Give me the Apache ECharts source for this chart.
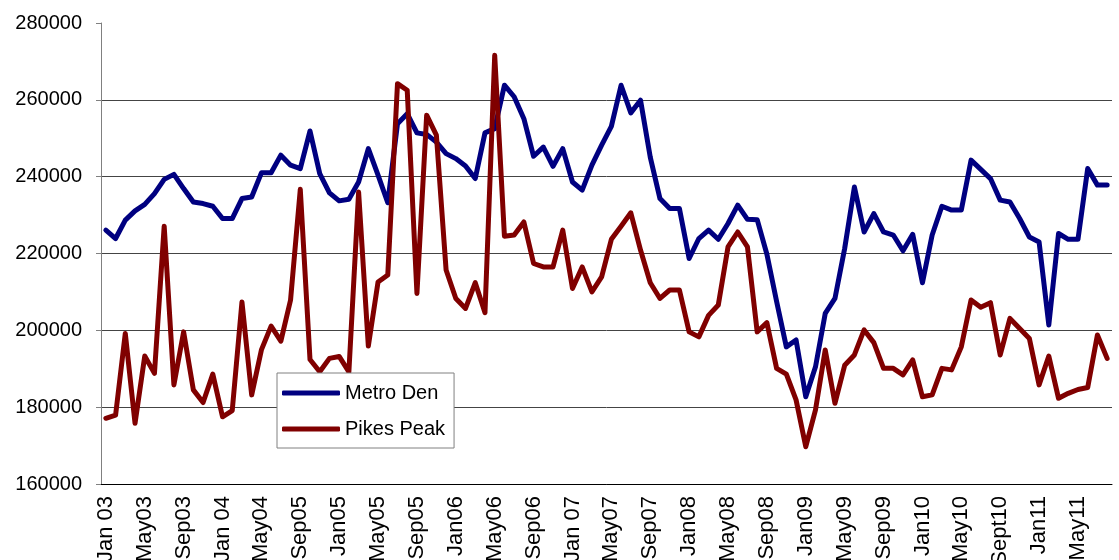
<!DOCTYPE html>
<html>
<head>
<meta charset="utf-8">
<script src="https://cdn.jsdelivr.net/npm/echarts@6/dist/echarts.min.js"></script>
<style>
    html, body { margin: 0; padding: 0; background: #fff; }
    #chart { width: 1119px; height: 560px; }
</style>
</head>
<body>
<div id="chart"></div>
<script>
    // tick labels, one every 4 months (as written on the original chart)
    var tickLabels = ['Jan 03', 'May03', 'Sep03', 'Jan 04', 'May04', 'Sep05', 'Jan05', 'May05', 'Sep05',
        'Jan06', 'May06', 'Sep06', 'Jan 07', 'May07', 'Sep07', 'Jan08', 'May08', 'Sep08',
        'Jan09', 'May09', 'Sep09', 'Jan10', 'May10', 'Sept10', 'Jan11', 'May11'];

    var monthNames = ['Jan', 'Feb', 'Mar', 'Apr', 'May', 'Jun', 'Jul', 'Aug', 'Sep', 'Oct', 'Nov', 'Dec'];

    // Metro Den, Jan 03 .. Aug 11
    var metroDen = [
        226100, 223900, 228700, 231100, 232800, 235600, 239300, 240600, 236900, 233400, 233000, 232300,
        229100, 229100, 234300, 234700, 241000, 241000, 245600, 243000, 242100, 251900, 240800, 235800,
        233700, 234100, 238600, 247300, 240400, 233200, 253800, 256400, 251400, 251000, 249000, 246000,
        244700, 242800, 239500, 251400, 252500, 263800, 260800, 255100, 245300, 247700, 242700, 247300,
        238600, 236500, 243000, 248200, 253100, 263800, 256600, 259900, 245100, 234300, 231700, 231700,
        218700, 223900, 226100, 223700, 227800, 232600, 228900, 228800, 219800, 207500, 195700, 197500,
        182700, 190500, 204400, 208300, 221300, 237300, 225600, 230400, 225600, 224800, 220700, 225000,
        212400, 224800, 232300, 231300, 231300, 244300, 241900, 239500, 233900, 233400, 229100, 224300,
        223000, 201400, 225200, 223700, 223700, 242100, 237800, 237800
    ];

    // Pikes Peak, Jan 03 .. Aug 11
    var pikesPeak = [
        177100, 177900, 199200, 175800, 193300, 188800, 227100, 185800, 199600, 184500, 181200, 188600,
        177500, 179100, 207400, 183200, 194900, 201100, 197200, 207900, 236700, 192400, 189200, 192700,
        193200, 189200, 236000, 195900, 212600, 214400, 264200, 262500, 209600, 256000, 250800, 215700,
        208300, 205700, 212400, 204600, 271600, 224500, 224800, 228200, 217400, 216500, 216500, 226100,
        210900, 216500, 210000, 213900, 223700, 227100, 230600, 220900, 212400, 208300, 210500, 210500,
        199600, 198300, 203900, 206600, 221700, 225600, 221700, 199600, 202000, 190100, 188600, 181900,
        169700, 179300, 194900, 181000, 190900, 193600, 200100, 196800, 190100, 190100, 188400, 192300,
        182700, 183200, 190100, 189700, 195700, 207900, 206000, 207200, 193600, 203100, 200500, 197900,
        185800, 193300, 182300, 183600, 184600, 185100, 198800, 192700
    ];

    // categories: every 4th one carries the printed label
    var categories = [];
    for (var i = 0; i < metroDen.length; i++) {
        if (i % 4 == 0) {
            categories.push(tickLabels[i / 4]);
        } else {
            var yr = 3 + Math.floor(i / 12);
            categories.push(monthNames[i % 12] + (yr < 10 ? '0' + yr : '' + yr));
        }
    }

    var font = "'Liberation Sans', Arial, sans-serif";

    var chart = echarts.init(document.getElementById('chart'));
    var option = {
        animation: false,
        backgroundColor: '#fff',
        textStyle: { fontFamily: font },
        grid: {
            left: 101,
            right: 7,
            top: 23,
            bottom: 76,
            containLabel: false,
            outerBoundsMode: 'none'
        },
        legend: {
            orient: 'vertical',
            left: 277,
            top: 373,
            width: 178,
            padding: [10, 9, 9, 5],
            itemWidth: 58,
            itemHeight: 5,
            itemGap: 16,
            icon: 'roundRect',
            borderColor: '#808080',
            borderWidth: 1,
            backgroundColor: '#fff',
            textStyle: { fontSize: 20, color: '#000', fontFamily: font },
            data: ['Metro Den', 'Pikes Peak']
        },
        xAxis: {
            type: 'category',
            boundaryGap: true,
            data: categories,
            axisLine: { lineStyle: { color: '#000', width: 1 } },
            axisTick: { interval: 0, length: 5, lineStyle: { color: '#808080' } },
            axisLabel: {
                interval: 3,
                rotate: 90,
                margin: 12,
                fontSize: 22,
                color: '#000',
                fontFamily: font
            },
            splitLine: { show: false }
        },
        yAxis: {
            type: 'value',
            min: 160000,
            max: 280000,
            interval: 20000,
            axisLine: { show: true, lineStyle: { color: '#808080', width: 1 } },
            axisTick: { show: true, length: 5, lineStyle: { color: '#808080' } },
            axisLabel: {
                fontSize: 20,
                color: '#000',
                margin: 19,
                fontFamily: font,
                formatter: function (v) { return String(v); }
            },
            splitLine: { show: true, showMaxLine: false, lineStyle: { color: '#444', width: 1 } }
        },
        series: [
            {
                name: 'Metro Den',
                type: 'line',
                data: metroDen,
                symbol: 'none',
                color: '#000080',
                lineStyle: { width: 5, color: '#000080', cap: 'round', join: 'round' }
            },
            {
                name: 'Pikes Peak',
                type: 'line',
                data: pikesPeak,
                symbol: 'none',
                color: '#800000',
                lineStyle: { width: 5, color: '#800000', cap: 'round', join: 'round' }
            }
        ]
    };
    chart.setOption(option, true);
</script>
</body>
</html>
